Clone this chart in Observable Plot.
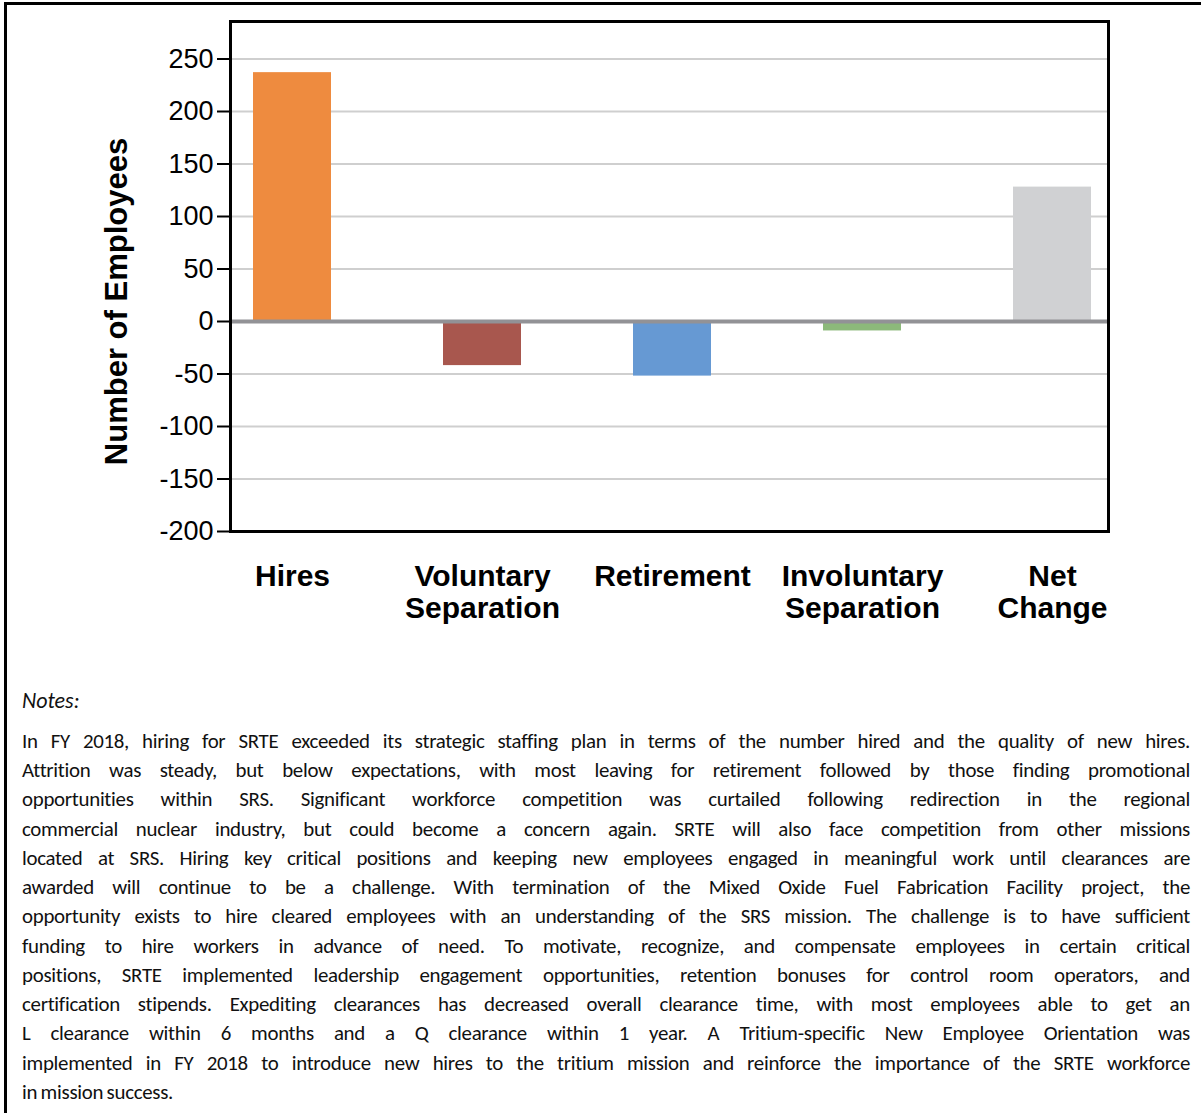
<!DOCTYPE html>
<html>
<head>
<meta charset="utf-8">
<script src="https://cdn.jsdelivr.net/npm/d3@7"></script>
<script src="https://cdn.jsdelivr.net/npm/@observablehq/plot@0.6"></script>
<style>
  html, body { margin: 0; padding: 0; background: #fff; }
  body { width: 1201px; height: 1113px; position: relative; overflow: hidden; }
  #outer { position: absolute; left: 4px; top: 2px; width: 1210px; height: 1200px;
           border-left: 3px solid #000; border-top: 3px solid #000; box-sizing: border-box; }
  #chart { position: absolute; left: 0; top: 0; }
  #notes { position: absolute; left: 22px; top: 686px; width: 1168px;
           font-family: Carlito, Lato, "Open Sans", sans-serif; color: #111; }
  #notes .hdr { font-style: italic; line-height: 29.25px; margin-bottom: 11.5px; font-size: 22px; }
  #notes .ln { line-height: 29.25px; text-align: justify; text-align-last: justify; white-space: nowrap;
               letter-spacing: -0.3px; word-spacing: -1px; }
  #notes .ln.last { text-align-last: left; }
</style>
</head>
<body>
<div id="outer"></div>
<div id="chart"></div>
<div id="notes"></div>
<script>
const categories = ["Hires", "Voluntary Separation", "Retirement", "Involuntary Separation", "Net Change"];
const labels = ["Hires", "Voluntary\nSeparation", "Retirement", "Involuntary\nSeparation", "Net\nChange"];
const values = [237, -42, -52, -9, 128];
const colors = ["#EE8B3F", "#A8574E", "#6699D3", "#8CB97A", "#D0D1D3"];
const yTicks = [-200, -150, -100, -50, 0, 50, 100, 150, 200, 250];
const yTitle = "Number of Employees";
const notesTitle = "Notes:";
const noteLines = [
  "In FY 2018, hiring for SRTE exceeded its strategic staffing plan in terms of the number hired and the quality of new hires.",
  "Attrition was steady, but below expectations, with most leaving for retirement followed by those finding promotional",
  "opportunities within SRS.  Significant workforce competition was curtailed following redirection in the regional",
  "commercial nuclear industry, but could become a concern again.  SRTE will also face competition from other missions",
  "located at SRS.  Hiring key critical positions and keeping new employees engaged in meaningful work until clearances are",
  "awarded will continue to be a challenge.  With termination of the Mixed Oxide Fuel Fabrication Facility project, the",
  "opportunity exists to hire cleared employees with an understanding of the SRS mission.  The challenge is to have sufficient",
  "funding to hire workers in advance of need.  To motivate, recognize, and compensate employees in certain critical",
  "positions, SRTE implemented leadership engagement opportunities, retention bonuses for control room operators, and",
  "certification stipends.  Expediting clearances has decreased overall clearance time, with most employees able to get an",
  "L clearance within 6 months and a Q clearance within 1 year.   A Tritium-specific New Employee Orientation was",
  "implemented in FY 2018 to introduce new hires to the tritium mission and reinforce the importance of the SRTE workforce",
  "in mission success."
];

const data = categories.map((c, i) => ({cat: c, label: labels[i], value: values[i]}));

const chart = Plot.plot({
  width: 1201,
  height: 650,
  marginTop: 21,
  marginLeft: 230,
  marginRight: 93,
  marginBottom: 119,
  style: {fontFamily: "'Liberation Sans', Arial, sans-serif", color: "#000", background: "transparent"},
  x: {domain: categories, range: [197, 1147], paddingInner: 0.59, paddingOuter: 0.295, axis: null},
  y: {domain: [-200, 250], range: [531, 58.5]},
  color: {domain: categories, range: colors},
  marks: [
    Plot.gridY(yTicks, {stroke: "#cfcfcf", strokeOpacity: 1, strokeWidth: 2}),
    Plot.barY(data, {x: "cat", y: "value", fill: "cat"}),
    Plot.ruleY([0], {stroke: "#929296", strokeWidth: 4}),
    Plot.frame({stroke: "#000", strokeWidth: 3}),
    Plot.axisY(yTicks, {tickSize: 13, tickPadding: 4, fontSize: 27, strokeWidth: 2, label: null, tickFormat: d => String(d)}),
    Plot.text(data, {x: "cat", text: "label", frameAnchor: "bottom", lineAnchor: "top", dy: 32,
                     fontSize: 30, fontWeight: "bold", lineHeight: 1.07, fill: "#000"}),
    Plot.text([yTitle], {frameAnchor: "left", textAnchor: "middle", rotate: -90, dx: -113, dy: 25,
                         fontSize: 31, fontWeight: "bold", fill: "#000"})
  ]
});
document.getElementById("chart").appendChild(chart);

const notes = document.getElementById("notes");
const hdr = document.createElement("div");
hdr.className = "hdr";
hdr.textContent = notesTitle;
notes.appendChild(hdr);
const lineEls = noteLines.map((t, i) => {
  const d = document.createElement("div");
  d.className = "ln" + (i === noteLines.length - 1 ? " last" : "");
  const s = document.createElement("span");
  s.textContent = t;
  d.appendChild(s);
  notes.appendChild(d);
  return {d, s};
});
// fit font so the longest line fits the text width
let fs = 21;
lineEls.forEach(o => { o.d.style.fontSize = fs + "px"; });
const maxW = Math.max(...lineEls.map(o => o.s.getBoundingClientRect().width));
if (maxW > 1164) fs = fs * 1164 / maxW;
lineEls.forEach(o => { o.d.style.fontSize = fs + "px"; o.d.style.whiteSpace = "normal"; });
</script>
</body>
</html>
